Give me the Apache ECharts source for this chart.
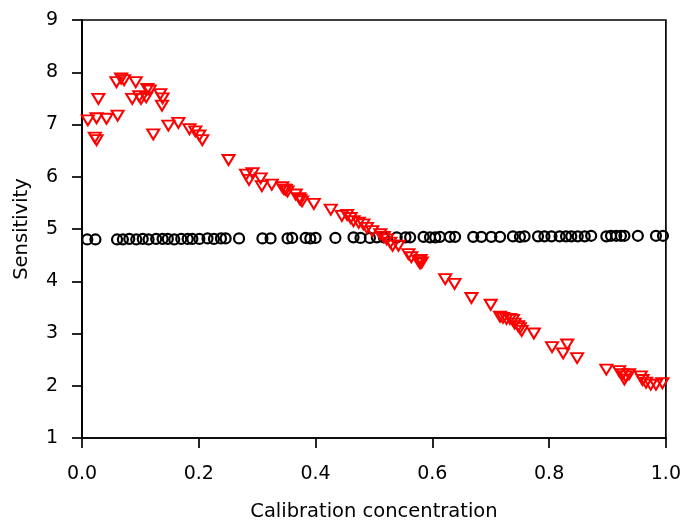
<!DOCTYPE html>
<html>
<head>
<meta charset="utf-8">
<script src="https://cdn.jsdelivr.net/npm/echarts@6/dist/echarts.min.js"></script>
<style>html,body{margin:0;padding:0;background:#fff;}#c{width:684px;height:527px;}</style>
</head>
<body>
<div id="c"></div>
<script>
// Black open circles
const circleX = [0.009,0.023,0.060,0.070,0.081,0.093,0.104,0.114,0.127,0.138,0.147,0.158,0.170,0.181,0.189,0.201,0.215,0.226,0.238,0.246,0.269,0.309,0.323,0.352,0.360,0.383,0.391,0.400,0.434,0.465,0.477,0.493,0.505,0.517,0.539,0.554,0.562,0.585,0.596,0.605,0.613,0.630,0.639,0.670,0.684,0.701,0.716,0.738,0.750,0.758,0.781,0.792,0.804,0.818,0.829,0.838,0.849,0.861,0.872,0.898,0.906,0.915,0.923,0.929,0.952,0.983,0.995];
const circleY = [4.80,4.80,4.80,4.80,4.81,4.80,4.81,4.80,4.81,4.81,4.81,4.80,4.81,4.81,4.81,4.81,4.82,4.81,4.82,4.82,4.82,4.82,4.82,4.82,4.83,4.83,4.82,4.83,4.83,4.84,4.83,4.83,4.84,4.84,4.84,4.84,4.84,4.85,4.84,4.84,4.85,4.85,4.85,4.85,4.85,4.85,4.85,4.86,4.85,4.86,4.86,4.86,4.86,4.86,4.86,4.86,4.86,4.86,4.87,4.86,4.87,4.87,4.87,4.87,4.87,4.87,4.87];
// Red open down-triangles
const triX = [0.010,0.025,0.042,0.061,0.028,0.022,0.025,0.059,0.067,0.072,0.092,0.086,0.098,0.110,0.101,0.112,0.116,0.134,0.138,0.137,0.122,0.148,0.165,0.184,0.194,0.201,0.206,0.251,0.281,0.292,0.286,0.306,0.308,0.325,0.343,0.349,0.352,0.346,0.366,0.372,0.377,0.374,0.397,0.426,0.445,0.454,0.460,0.465,0.474,0.482,0.488,0.497,0.511,0.517,0.522,0.528,0.532,0.542,0.559,0.564,0.576,0.579,0.582,0.580,0.622,0.638,0.667,0.700,0.716,0.721,0.727,0.733,0.738,0.741,0.747,0.750,0.753,0.774,0.805,0.824,0.831,0.848,0.898,0.920,0.926,0.931,0.937,0.929,0.957,0.960,0.966,0.974,0.983,0.994];
const triY = [7.08,7.12,7.11,7.17,7.49,6.75,6.70,7.81,7.88,7.85,7.81,7.49,7.54,7.52,7.49,7.68,7.65,7.58,7.50,7.36,6.81,6.98,7.03,6.91,6.87,6.79,6.70,6.32,6.04,6.07,5.94,5.97,5.82,5.85,5.80,5.75,5.72,5.76,5.66,5.59,5.53,5.56,5.48,5.37,5.25,5.27,5.21,5.15,5.12,5.09,5.02,4.96,4.90,4.85,4.80,4.74,4.68,4.68,4.52,4.46,4.39,4.34,4.36,4.41,4.04,3.95,3.68,3.55,3.32,3.30,3.28,3.28,3.26,3.19,3.14,3.10,3.05,3.00,2.74,2.62,2.79,2.53,2.31,2.28,2.22,2.18,2.22,2.12,2.18,2.11,2.06,2.02,2.02,2.05];
const xTicks = ['0.0','0.2','0.4','0.6','0.8','1.0'];
const yTicks = ['1','2','3','4','5','6','7','8','9'];

const circleData = circleX.map((x,i)=>[x,circleY[i]]);
const triData = triX.map((x,i)=>[x,triY[i]]);
const font = 'DejaVu Sans';
const chart = echarts.init(document.getElementById('c'), null, {renderer:'canvas'});
chart.setOption({
  animation:false,
  backgroundColor:'#fff',
  grid:{left:82,right:16,top:20,bottom:85,show:true,borderColor:'#000',borderWidth:1.7,backgroundColor:'transparent'},
  xAxis:{
    type:'value',min:0,max:1,interval:0.2,
    name:'Calibration concentration',nameLocation:'middle',nameGap:64,
    nameTextStyle:{fontFamily:font,fontSize:19.5,color:'#000'},
    axisLine:{show:true,lineStyle:{color:'#000',width:1.7}},
    axisTick:{show:true,inside:false,length:10,lineStyle:{color:'#000',width:1.7}},
    axisLabel:{margin:27,fontFamily:font,fontSize:19,color:'#000',formatter:(v)=>xTicks[Math.round(v/0.2)]},
    splitLine:{show:false}
  },
  yAxis:{
    type:'value',min:1,max:9,interval:1,
    name:'Sensitivity',nameLocation:'middle',nameGap:50,nameRotate:90,
    nameTextStyle:{fontFamily:font,fontSize:19.5,color:'#000'},
    axisLine:{show:true,lineStyle:{color:'#000',width:1.7}},
    axisTick:{show:true,inside:false,length:10,lineStyle:{color:'#000',width:1.7}},
    axisLabel:{margin:24,fontFamily:font,fontSize:19,color:'#000',formatter:(v)=>yTicks[Math.round(v-1)]},
    splitLine:{show:false}
  },
  series:[
    {type:'scatter',data:circleData,symbol:'circle',symbolSize:10,
     itemStyle:{color:'rgba(0,0,0,0)',borderColor:'#000',borderWidth:2.2,opacity:1}},
    {type:'scatter',data:triData,symbol:'triangle',symbolRotate:180,symbolSize:[12,10],
     itemStyle:{color:'rgba(0,0,0,0)',borderColor:'#ff0000',borderWidth:2,opacity:1}}
  ]
});
</script>
</body>
</html>
